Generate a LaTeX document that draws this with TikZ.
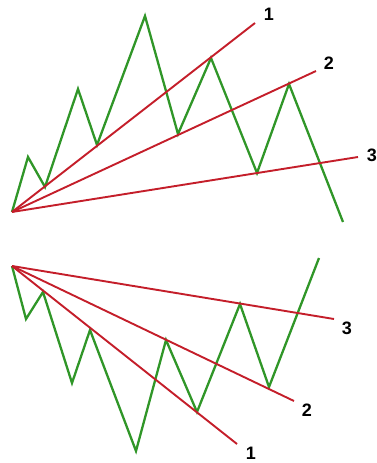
\documentclass[tikz,border=0pt]{standalone}
\usepackage{fontspec}
\setmainfont{Liberation Sans}
\definecolor{zgreen}{RGB}{48,150,40}
\definecolor{fred}{RGB}{196,30,42}
\begin{document}
\begin{tikzpicture}[x=1pt,y=-1pt,
    zig/.style={draw=zgreen, line width=2.3pt, line join=miter},
    fan/.style={draw=fred, line width=1.9pt},
    lbl/.style={font=\bfseries\fontsize{18}{18}\selectfont, inner sep=0pt}
]
\useasboundingbox (0,0) rectangle (377,463);
% upper fan
\foreach \x/\y [count=\i] in {12/212, 28/157, 45/187, 78/89, 97/145, 145/16,
    178/134, 211/58, 257/173, 289/84, 343/222} {
  \coordinate (t\i) at (\x,\y);
}
\draw[zig] (t1) \foreach \i in {2,...,11} {-- (t\i)};
\coordinate (te1) at (255,23);
\coordinate (te2) at (316,71);
\coordinate (te3) at (358,157);
\foreach \k in {1,2,3} {
  \draw[fan] (t1) -- (te\k);
}
\node[lbl] (tl1) at (269,14) {1};
\node[lbl] (tl2) at (329,63) {2};
\node[lbl] (tl3) at (372,155) {3};
% lower fan
\foreach \x/\y [count=\i] in {12/266, 26/319, 43/292, 72/383, 90/330, 136/451,
    166/340, 197/412, 240/304, 269/387, 319/258} {
  \coordinate (b\i) at (\x,\y);
}
\draw[zig] (b1) \foreach \i in {2,...,11} {-- (b\i)};
\coordinate (be1) at (237,444);
\coordinate (be2) at (294,401);
\coordinate (be3) at (334,319);
\foreach \k in {1,2,3} {
  \draw[fan] (b1) -- (be\k);
}
\node[lbl] (bl1) at (251,453) {1};
\node[lbl] (bl2) at (307,410) {2};
\node[lbl] (bl3) at (347,328) {3};
\end{tikzpicture}
\end{document}
